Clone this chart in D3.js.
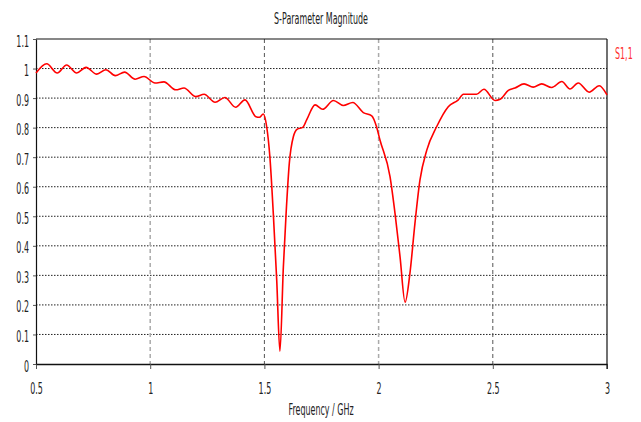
<!DOCTYPE html>
<html>
<head>
<meta charset="utf-8">
<script src="https://cdn.jsdelivr.net/npm/d3@7"></script>
<style>
  body { margin: 0; background: #fff; }
  text { font-family: "DejaVu Sans", Verdana, sans-serif; }
</style>
</head>
<body>
<script>
// Constants
const width = 641;
const height = 422;
const margin = { top: 39, right: 34, bottom: 58, left: 36 };
const squeeze = 0.53; // the reference font is very narrow

const titleText = 'S-Parameter Magnitude';
const xAxisLabel = 'Frequency / GHz';
const seriesName = 'S1,1';

const xTicks = [0.5, 1, 1.5, 2, 2.5, 3];
const yTicks = [0, 0.1, 0.2, 0.3, 0.4, 0.5, 0.6, 0.7, 0.8, 0.9, 1, 1.1];

// S1,1 magnitude
const freq = [0.5, 0.547, 0.593, 0.634, 0.678, 0.719, 0.766, 0.806, 0.847, 0.888, 0.934, 0.973,
  1.021, 1.06, 1.112, 1.148, 1.199, 1.236, 1.284, 1.327, 1.374, 1.415, 1.463, 1.478, 1.495,
  1.51, 1.524, 1.539, 1.554, 1.568, 1.583, 1.595, 1.609, 1.627, 1.644, 1.668, 1.685, 1.722,
  1.755, 1.802, 1.845, 1.887, 1.933, 1.97, 1.991, 2.006, 2.05, 2.072, 2.094, 2.116, 2.137,
  2.159, 2.181, 2.211, 2.254, 2.305, 2.349, 2.371, 2.429, 2.461, 2.51, 2.532, 2.568, 2.597,
  2.637, 2.677, 2.714, 2.758, 2.802, 2.838, 2.874, 2.922, 2.966, 3.0];
const s11 = [0.985, 1.016, 0.985, 1.012, 0.985, 1.004, 0.981, 0.996, 0.976, 0.988, 0.964, 0.973,
  0.951, 0.955, 0.928, 0.934, 0.905, 0.913, 0.886, 0.902, 0.869, 0.894, 0.837, 0.835, 0.846,
  0.803, 0.701, 0.509, 0.283, 0.043, 0.328, 0.509, 0.679, 0.77, 0.795, 0.801, 0.826, 0.877,
  0.862, 0.892, 0.875, 0.885, 0.851, 0.84, 0.803, 0.758, 0.634, 0.509, 0.362, 0.209, 0.306,
  0.475, 0.622, 0.724, 0.803, 0.871, 0.894, 0.913, 0.913, 0.93, 0.892, 0.896, 0.926, 0.934,
  0.948, 0.937, 0.948, 0.936, 0.956, 0.931, 0.951, 0.92, 0.942, 0.911];

const data = freq.map((f, i) => ({ f, v: s11[i] }));

const svg = d3.select('body')
  .append('svg')
  .attr('width', width)
  .attr('height', height);

const innerW = width - margin.left - margin.right;
const innerH = height - margin.top - margin.bottom;

const xScale = d3.scaleLinear().domain([0.5, 3]).range([margin.left, margin.left + innerW]);
const yScale = d3.scaleLinear().domain([0, 1.1]).range([margin.top + innerH, margin.top]);

// Narrow text helper
function label(x, y, txt, anchor, color) {
  svg.append('g')
    .attr('transform', `translate(${x},${y})`)
    .append('text')
    .attr('transform', `scale(${squeeze},1)`)
    .attr('text-anchor', anchor)
    .attr('font-size', '15px')
    .attr('fill', color)
    .text(txt);
}

// Title
label(321, 24, titleText, 'middle', '#222');

// Horizontal grid (dotted)
svg.append('g')
  .selectAll('line')
  .data(yTicks.slice(1, -1))
  .join('line')
  .attr('x1', margin.left)
  .attr('x2', margin.left + innerW)
  .attr('y1', (d) => yScale(d))
  .attr('y2', (d) => yScale(d))
  .attr('stroke', '#222')
  .attr('stroke-width', 1)
  .attr('stroke-dasharray', '1.5,1.5');

// Vertical grid (dashed)
svg.append('g')
  .selectAll('line')
  .data(xTicks.slice(1, -1))
  .join('line')
  .attr('x1', (d) => xScale(d))
  .attr('x2', (d) => xScale(d))
  .attr('y1', margin.top)
  .attr('y2', margin.top + innerH)
  .attr('stroke', (d, i) => (i % 2 === 0 ? '#aaa' : '#555'))
  .attr('stroke-width', (d, i) => (i % 2 === 0 ? 1.5 : 1))
  .attr('stroke-dasharray', '4,3');

// Axes
const xAxis = d3.axisBottom(xScale)
  .tickValues(xTicks)
  .tickFormat(d3.format('~g'))
  .tickSize(5)
  .tickSizeOuter(0);

const xAxisG = svg.append('g')
  .attr('transform', `translate(0,${margin.top + innerH})`)
  .call(xAxis);
xAxisG.select('.domain').attr('stroke', '#111').attr('stroke-width', 1.5);
xAxisG.selectAll('.tick line').attr('stroke', '#555');
xAxisG.selectAll('.tick text')
  .attr('font-size', '15px')
  .attr('fill', '#222')
  .attr('y', 30)
  .attr('dy', 0)
  .attr('transform', `scale(${squeeze},1)`);

const yAxis = d3.axisLeft(yScale)
  .tickValues(yTicks)
  .tickFormat(d3.format('~g'))
  .tickSize(3)
  .tickSizeOuter(0);

const yAxisG = svg.append('g')
  .attr('transform', `translate(${margin.left},0)`)
  .call(yAxis);
yAxisG.select('.domain').attr('stroke', '#111').attr('stroke-width', 1.2);
yAxisG.selectAll('.tick line').attr('stroke', '#555');
yAxisG.selectAll('.tick text')
  .attr('font-size', '15px')
  .attr('fill', '#222')
  .attr('x', -7 / squeeze)
  .attr('dy', 7)
  .attr('transform', `scale(${squeeze},1)`);

// Top and right frame
svg.append('line')
  .attr('x1', margin.left).attr('x2', margin.left + innerW)
  .attr('y1', margin.top).attr('y2', margin.top)
  .attr('stroke', '#111').attr('stroke-width', 1.2);
svg.append('line')
  .attr('x1', margin.left + innerW).attr('x2', margin.left + innerW)
  .attr('y1', margin.top).attr('y2', margin.top + innerH + 5)
  .attr('stroke', '#111').attr('stroke-width', 1.2);

// X axis label
label(321, 415, xAxisLabel, 'middle', '#222');

// Series
const line = d3.line()
  .x((d) => xScale(d.f))
  .y((d) => yScale(d.v))
  .curve(d3.curveMonotoneX);

svg.append('path')
  .datum(data)
  .attr('d', line)
  .attr('fill', 'none')
  .attr('stroke', '#ff0000')
  .attr('stroke-width', 1.6);

// Series label
label(615, 59, seriesName, 'start', '#ff3030');
</script>
</body>
</html>
